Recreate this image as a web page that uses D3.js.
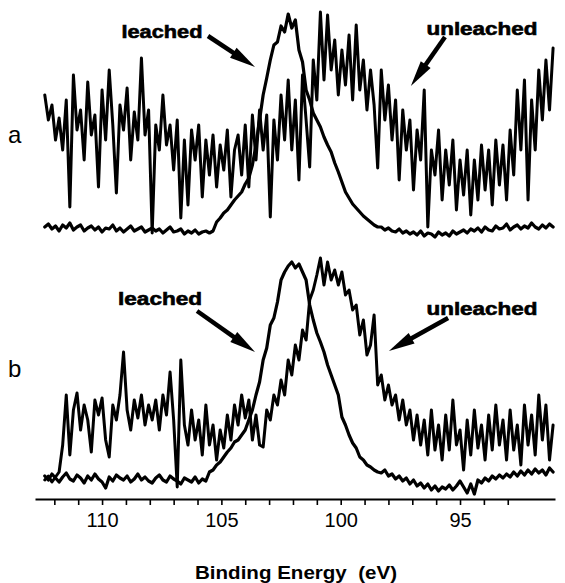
<!DOCTYPE html>
<html>
<head>
<meta charset="utf-8">
<script src="https://cdn.jsdelivr.net/npm/d3@7"></script>
<style>
  body { margin: 0; background: #fff; }
</style>
</head>
<body>
<div id="chart"></div>
<script>
// energy grid shared by all four spectra (eV, high to low)
const energyStart = 112.4;
const energyStep = 0.15;

// panel a, intensities (arb. units)
const leachedA = [13, 16, 11, 14, 9, 15, 12, 17, 10, 13, 15, 9, 12, 14, 10, 13, 8, 12, 11, 15,
  9, 12, 8, 11, 14, 9, 11, 13, 8, 10, 12, 9, 11, 7, 10, 13, 8, 9, 11, 6,
  9, 7, 10, 6, 8, 9, 7, 9, 18, 22, 27, 30, 35, 40, 44, 48, 56, 62, 75, 95,
  120, 145, 162, 180, 195, 198, 214, 208, 226, 212, 220, 190, 178, 150, 140, 127, 120, 113, 103, 95,
  88, 77, 68, 58, 48, 42, 36, 32, 28, 24, 21, 18, 15, 13, 13, 10, 12, 9, 8, 11,
  7, 9, 6, 8, 5, 9, 4, 7, 6, 3, 8, 5, 7, 4, 9, 6, 8, 10, 7, 11,
  9, 12, 8, 13, 10, 9, 14, 11, 12, 16, 10, 13, 15, 11, 14, 12, 17, 13, 11, 15,
  12, 16, 13];

const unleachedA = [145, 120, 135, 100, 122, 90, 140, 33, 165, 110,
  130, 80, 158, 105, 125, 53, 150, 100, 170, 115,
  47, 135, 110, 152, 80, 128, 100, 182, 105, 130,
  7, 115, 90, 145, 95, 115, 70, 120, 22, 100,
  35, 110, 80, 115, 43, 100, 65, 105, 53, 95,
  70, 110, 43, 90, 105, 65, 115, 53, 125, 80,
  130, 90, 125, 23, 120, 80, 145, 100, 160, 90,
  140, 60, 165, 120, 73, 180, 140, 228, 160, 225,
  170, 200, 145, 190, 155, 205, 140, 215, 150, 180,
  130, 170, 135, 72, 170, 120, 155, 100, 140, 60,
  130, 90, 120, 50, 110, 80, 150, 13, 90, 65,
  110, 40, 90, 55, 100, 30, 80, 45, 90, 25,
  80, 40, 95, 50, 90, 35, 100, 55, 95, 40,
  110, 65, 150, 90, 160, 40, 140, 90, 170, 120,
  180, 130, 192];

// panel b, intensities (arb. units)
const leachedB = [24, 20, 26, 22, 18, 23, 27, 21, 19, 25, 22, 17, 24, 20, 26, 21, 18, 12, 23, 19,
  25, 22, 20, 24, 18, 21, 26, 20, 23, 19, 17, 22, 25, 20, 18, 24, 21, 19, 16, 22,
  20, 18, 23, 17, 21, 19,
  28, 30, 35, 38, 43, 48, 52, 58, 60, 65,
  70, 80, 90, 105, 118, 140, 152, 175, 182, 198,
  220, 228, 234, 238, 232, 236, 228, 220, 195, 180,
  167, 158, 148, 135, 125, 115, 105, 83, 75, 65,
  57, 52, 43, 40, 35, 33, 30, 28, 27, 30,
  24, 26, 21, 24, 19, 22, 16, 20, 14, 17,
  12, 16, 10, 14, 9, 13, 11, 15, 10, 14,
  19, 13, 7, 16, 6, 20, 17, 22, 19, 24,
  21, 25, 22, 26, 23, 28, 24, 29, 25, 30,
  26, 31, 27, 30, 25, 32, 28];

const unleachedB = [20, 24, 18, 23, 28, 55, 105, 45, 90, 107,
  70, 95, 80, 48, 100, 85, 102, 60, 43, 95,
  80, 105, 148, 90, 70, 100, 82, 105, 75, 95,
  80, 100, 70, 105, 85, 128, 80, 13, 140, 75,
  55, 90, 60, 80, 45, 95, 55, 75, 40, 70,
  52, 85, 60, 95, 75, 105, 82, 100, 60, 85,
  55, 53, 90, 80, 105, 95, 120, 105, 140, 125,
  155, 140, 170, 160, 200, 210, 225, 242, 215, 238,
  220, 230, 215, 228, 205, 210, 190, 195, 165, 180,
  145, 155, 185, 115, 125, 100, 115, 95, 105, 80,
  100, 75, 90, 60, 85, 55, 80, 45, 90, 50,
  75, 40, 85, 50, 100, 55, 70, 30, 80, 45,
  90, 52, 75, 40, 85, 50, 95, 55, 80, 40,
  90, 50, 75, 35, 95, 55, 85, 45, 105, 60,
  95, 40, 75];

const tickEnergies = [112, 111, 110, 109, 108, 107, 106, 105, 104, 103,
  102, 101, 100, 99, 98, 97, 96, 95, 94, 93];
const labelledTicks = [110, 105, 100, 95];

// labels + arrows, in data units (energy, intensity)
const notesA = [
  { text: 'leached', e: 107.49, v: 202, len: 81, tail: [105.56, 204], tip: [103.59, 173] },
  { text: 'unleached', e: 94.08, v: 205, len: 111, tail: [95.63, 203], tip: [97.06, 154] }
];
const notesB = [
  { text: 'leached', e: 107.57, v: 195, len: 84, tail: [106.02, 189], tip: [103.59, 148] },
  { text: 'unleached', e: 94.08, v: 185, len: 111, tail: [95.5, 182], tip: [97.98, 149] }
];

var width = 565;
var height = 583;

var svg = d3.select('#chart')
    .append('svg')
    .attr('width', width)
    .attr('height', height)
    .style('background', '#fff');

var x = d3.scaleLinear().domain([112.81, 91.02]).range([35, 555]);
var yA = d3.scaleLinear().domain([0, 240]).range([240, 0]);
var yB = d3.scaleLinear().domain([0, 245]).range([500, 255]);

const energyAt = i => energyStart - energyStep * i;

function drawTrace(values, y, w) {
    const line = d3.line()
        .x((d, i) => x(energyAt(i)))
        .y(d => y(d));
    svg.append('path')
        .datum(values)
        .attr('d', line)
        .attr('fill', 'none')
        .attr('stroke', '#000')
        .attr('stroke-width', w)
        .attr('stroke-linejoin', 'round')
        .attr('stroke-linecap', 'round');
}

drawTrace(leachedA, yA, 3.2);
drawTrace(unleachedA, yA, 3);
drawTrace(leachedB, yB, 3.2);
drawTrace(unleachedB, yB, 3);

// bottom axis
var axis = d3.axisBottom(x)
    .tickValues(tickEnergies)
    .tickSize(6)
    .tickSizeOuter(0)
    .tickFormat(d => labelledTicks.includes(d) ? d : '');

var gx = svg.append('g')
    .attr('transform', 'translate(0,499)')
    .call(axis);
gx.select('.domain').attr('stroke', '#000').attr('stroke-width', 2);
gx.selectAll('.tick line').attr('stroke', '#000').attr('stroke-width', 1.6);
gx.selectAll('.tick text')
    .attr('fill', '#000')
    .attr('y', 14)
    .attr('font-family', '"Liberation Sans", Arial, sans-serif')
    .attr('font-size', 20);

svg.append('text')
    .attr('x', 296)
    .attr('y', 579)
    .attr('text-anchor', 'middle')
    .attr('font-family', '"Liberation Sans", Arial, sans-serif')
    .attr('font-weight', 'bold')
    .attr('font-size', 18)
    .attr('textLength', 202)
    .attr('lengthAdjust', 'spacingAndGlyphs')
    .style('white-space', 'pre')
    .text('Binding Energy  (eV)');

// panel letters
svg.append('text').attr('x', 8).attr('y', 143)
    .attr('font-family', '"Liberation Sans", Arial, sans-serif').attr('font-size', 24)
    .text('a');
svg.append('text').attr('x', 8).attr('y', 377)
    .attr('font-family', '"Liberation Sans", Arial, sans-serif').attr('font-size', 24)
    .text('b');

function drawNotes(notes, y) {
    notes.forEach(n => {
        const cx = x(n.e);
        svg.append('text')
            .attr('x', cx - n.len / 2)
            .attr('y', y(n.v))
            .attr('font-family', '"Liberation Sans", Arial, sans-serif')
            .attr('font-weight', 'bold')
            .attr('font-size', 18)
            .attr('stroke', '#000')
            .attr('stroke-width', 0.6)
            .attr('textLength', n.len)
            .attr('lengthAdjust', 'spacingAndGlyphs')
            .text(n.text);

        const x0 = x(n.tail[0]), y0 = y(n.tail[1]);
        const x1 = x(n.tip[0]), y1 = y(n.tip[1]);
        const dx = x1 - x0, dy = y1 - y0;
        const len = Math.sqrt(dx * dx + dy * dy);
        const ux = dx / len, uy = dy / len;
        const headLen = 26, headHalf = 6;
        const bx = x1 - ux * headLen, by = y1 - uy * headLen;

        svg.append('line')
            .attr('x1', x0).attr('y1', y0)
            .attr('x2', bx + ux * 2).attr('y2', by + uy * 2)
            .attr('stroke', '#000')
            .attr('stroke-width', 4.5);
        svg.append('path')
            .attr('d', `M${x1},${y1}L${bx - uy * headHalf},${by + ux * headHalf}L${bx + uy * headHalf},${by - ux * headHalf}Z`)
            .attr('fill', '#000');
    });
}

drawNotes(notesA, yA);
drawNotes(notesB, yB);
</script>
</body>
</html>
